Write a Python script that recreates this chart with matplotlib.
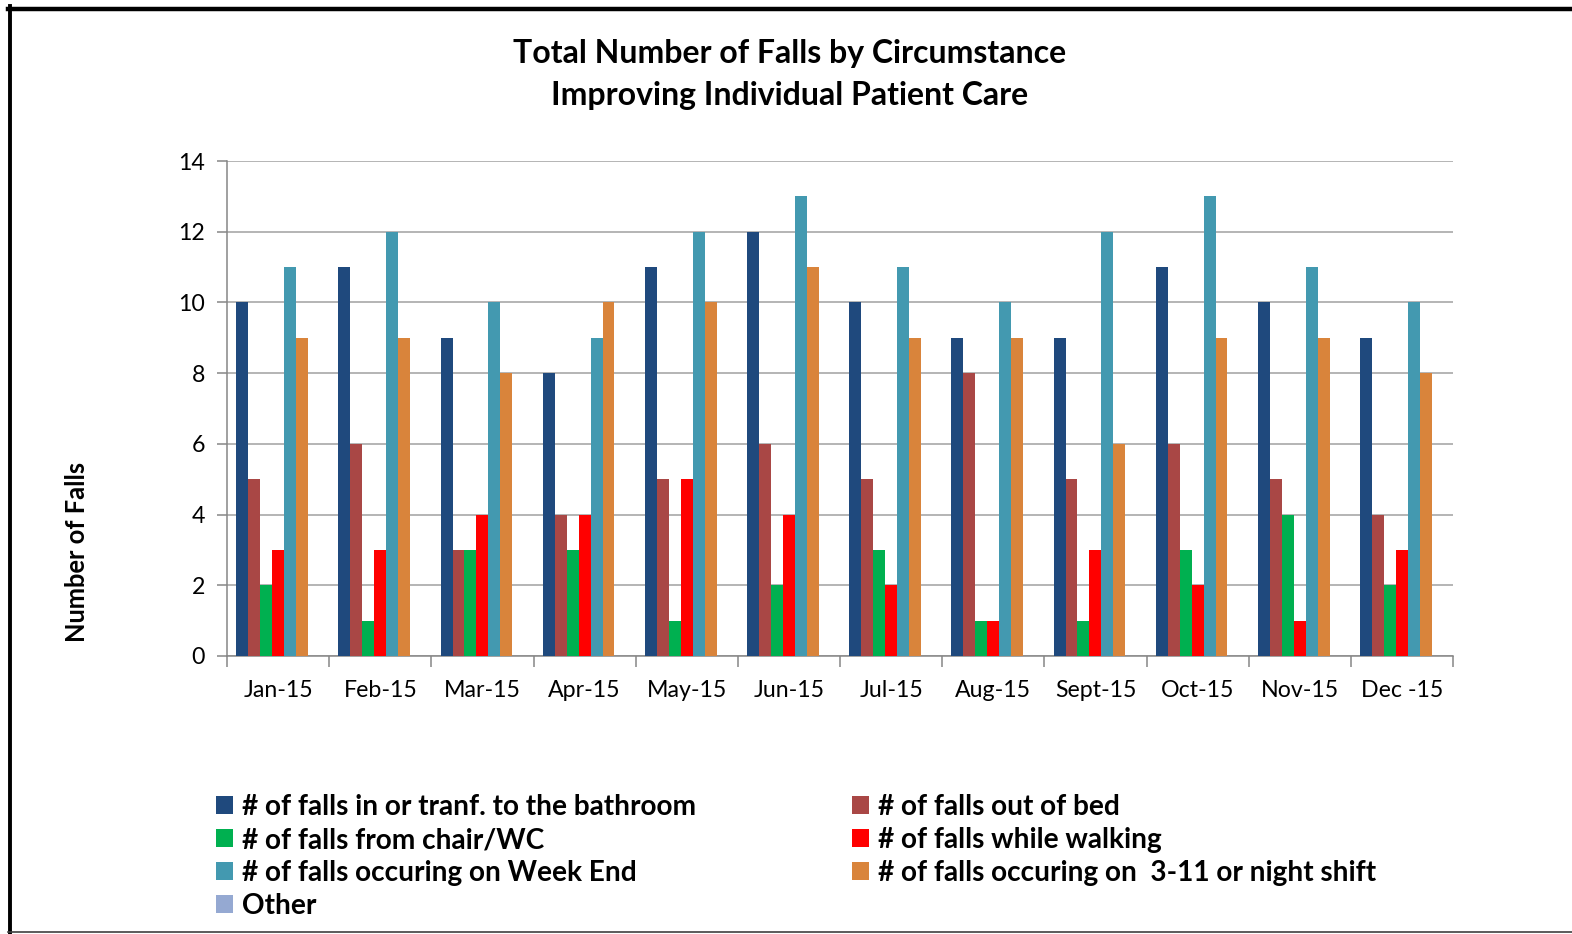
import numpy as np
import matplotlib
matplotlib.use("Agg")
import matplotlib.pyplot as plt
from matplotlib.lines import Line2D
from matplotlib.patches import Patch

# === DATA ===
months = ["Jan-15", "Feb-15", "Mar-15", "Apr-15", "May-15", "Jun-15",
          "Jul-15", "Aug-15", "Sept-15", "Oct-15", "Nov-15", "Dec -15"]

bathroom = [10, 11, 9, 8, 11, 12, 10, 9, 9, 11, 10, 9]
out_of_bed = [5, 6, 3, 4, 5, 6, 5, 8, 5, 6, 5, 4]
chair_wc = [2, 1, 3, 3, 1, 2, 3, 1, 1, 3, 4, 2]
walking = [3, 3, 4, 4, 5, 4, 2, 1, 3, 2, 1, 3]
week_end = [11, 12, 10, 9, 12, 13, 11, 10, 12, 13, 11, 10]
night_shift = [9, 9, 8, 10, 10, 11, 9, 9, 6, 9, 9, 8]
other = [0, 0, 0, 0, 0, 0, 0, 0, 0, 0, 0, 0]

labels = ["# of falls in or tranf. to the bathroom",
          "# of falls out of bed",
          "# of falls from chair/WC",
          "# of falls while walking",
          "# of falls occuring on Week End",
          "# of falls occuring on  3-11 or night shift",
          "Other"]
colors = ["#1F497D", "#A94745", "#00B050", "#FF0000", "#4399B0", "#D9843B", "#95A9D2"]
series = [bathroom, out_of_bed, chair_wc, walking, week_end, night_shift, other]

plt.rcParams['font.family'] = ['Lato', 'DejaVu Sans']

# === FIGURE ===
fig = plt.figure(figsize=(15.72, 9.34), dpi=100)
ax = fig.add_axes([227 / 1572, 1 - 656 / 934, (1453 - 227) / 1572, (656 - 161) / 934])

n = len(series)
bw = 0.117
x = np.arange(len(months)) + 0.5
for i, (vals, col, lab) in enumerate(zip(series, colors, labels)):
    ax.bar(x + (i - (n - 1) / 2) * bw, vals, width=bw, color=col, label=lab, zorder=3)

ax.set_xlim(0, len(months))
ax.set_ylim(0, 14)
ax.set_yticks(range(0, 15, 2))
ax.yaxis.grid(True, color="#A0A0A0", linewidth=1.1, zorder=0)

ax.set_xticks(np.arange(len(months) + 1))
ax.set_xticklabels([])
ax.set_xticks(x, minor=True)
ax.set_xticklabels(months, minor=True)
ax.tick_params(axis="x", which="major", length=8, color="#868686", width=1.1)
ax.tick_params(axis="x", which="minor", length=0, pad=17, labelsize=16.7)
ax.tick_params(axis="y", length=7, color="#868686", width=1.1, labelsize=16.7, pad=9)

for s in ["top", "right"]:
    ax.spines[s].set_visible(False)
for s in ["left", "bottom"]:
    ax.spines[s].set_color("#868686")
    ax.spines[s].set_linewidth(1.1)

# titles
fig.text(790 / 1572, 1 - 53 / 934, "Total Number of Falls by Circumstance",
         ha="center", va="center", fontsize=23, fontweight="bold")
fig.text(790 / 1572, 1 - 95 / 934, "Improving Individual Patient Care",
         ha="center", va="center", fontsize=23, fontweight="bold")
fig.text(77 / 1572, 1 - 552 / 934, "Number of Falls", rotation=90,
         ha="center", va="center", fontsize=18.4, fontweight="bold")

# legend in two separate columns
handles = [Patch(facecolor=c) for c in colors]
left_idx = [0, 2, 4, 6]
right_idx = [1, 3, 5]
legkw = dict(frameon=False, handlelength=0.62, handleheight=0.62, handletextpad=0.3,
             labelspacing=0.25, borderpad=0, borderaxespad=0,
             prop={"size": 20.2, "weight": "bold"})
fig.legend([handles[i] for i in left_idx], [labels[i] for i in left_idx],
           loc="upper left", bbox_to_anchor=(216 / 1572, 1 - 794 / 934), **legkw)
fig.legend([handles[i] for i in right_idx], [labels[i] for i in right_idx],
           loc="upper left", bbox_to_anchor=(852 / 1572, 1 - 794 / 934), **legkw)

# outer frame
fig.add_artist(Line2D([9.5 / 1572, 9.5 / 1572], [0, 1 - 6 / 934], color="black",
                      linewidth=2.8, transform=fig.transFigure))
fig.add_artist(Line2D([8 / 1572, 1], [1 - 8.5 / 934, 1 - 8.5 / 934], color="black",
                      linewidth=3.2, transform=fig.transFigure))
fig.add_artist(Line2D([8 / 1572, 1], [1 - 932 / 934, 1 - 932 / 934], color="#404040",
                      linewidth=1.2, transform=fig.transFigure))

fig.savefig("out.png", dpi=100)
